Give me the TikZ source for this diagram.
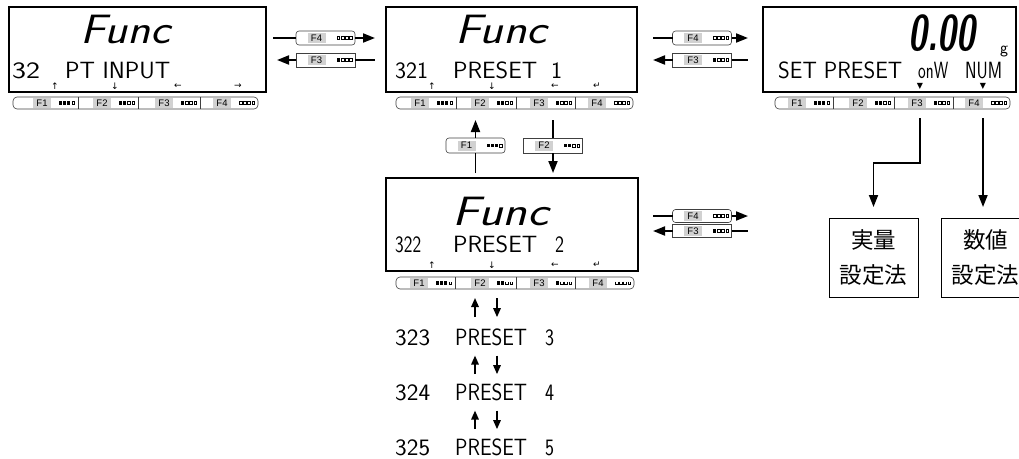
\documentclass[tikz,border=0pt]{standalone}
\usepackage{fontspec}
\usepackage{graphicx}
\usetikzlibrary{arrows.meta}
\newfontfamily\symf{DejaVu Sans}
\newfontfamily\cjkf{Noto Sans CJK JP}
\newfontfamily\keyf{Liberation Sans}
\newcommand\fitw[2]{\resizebox{#1pt}{\height}{#2}}
% indicator: 1 filled, 0 open, 2 cup
\newcommand\indic[3]{\foreach \vv [count=\kk from 0] in #3 {%
  \ifnum\vv=1 \fill ({#1+\kk*4.2},{#2-1.7}) rectangle ++(3,3.4);\fi
  \ifnum\vv=0 \draw[line width=.45pt] ({#1+\kk*4.2+.25},{#2-1.5}) rectangle ++(2.8,3);\fi
  \ifnum\vv=2 \draw[line width=.45pt] ({#1+\kk*4.2+.25},{#2-1.5}) -- ++(0,3) -- ++(2.8,0) -- ++(0,-3);\fi}}
% keybar: name, x0, x1, yc, d1, d2, d3, opentype
\newcommand\keybar[8]{%
  \node[keybar, minimum width={#3-#2}] (#1) at ({(#2+#3)/2},#4) {};
  \foreach \dd in {#5,#6,#7} \draw[kbline] (\dd,#4-6) -- (\dd,#4+6);
  \foreach \rr/\lab/\pp in {#5/F1/{1,1,1,#8}, #6/F2/{1,1,#8,#8}, #7/F3/{1,#8,#8,#8}, #3/F4/{#8,#8,#8,#8}}{%
    \node[flab] (#1\lab) at (\rr-36,#4) {\lab};
    \indic{\rr-19}{#4}{\pp}}}
% arrow key box: name, x, y, label, pattern, extra style
\newcommand\akey[6]{%
  \node[akey,#6] (#1) at (#2,#3) {};
  \node[flab] (#1l) at (#2-9,#3) {#4};
  \indic{#2+11}{#3}{#5}}
\begin{document}
\begin{tikzpicture}[x=1pt,y=-1pt,
  screen/.style={draw, line width=1.3pt, inner sep=0pt, outer sep=0pt},
  keybar/.style={draw=black!75, line width=.6pt, rounded corners=4pt, inner sep=0pt, outer sep=0pt, minimum height=12},
  kbline/.style={draw=black!75, line width=.6pt},
  flab/.style={fill=black!18, inner sep=0pt, minimum width=18, minimum height=10, font=\keyf\fontsize{9.5}{9.5}\selectfont},
  akey/.style={draw=black!75, line width=.6pt, inner sep=0pt, outer sep=0pt, minimum width=59, minimum height=14},
  lcd/.style={inner sep=0pt, anchor=base west, font=\sffamily\fontsize{23.5}{24}\selectfont},
  funcf/.style={inner sep=0pt, anchor=base west, font=\sffamily\slshape\fontsize{41}{41}\selectfont},
  bigd/.style={inner sep=0pt, anchor=base west, font=\sffamily\bfseries\slshape\fontsize{50}{50}\selectfont},
  sym/.style={inner sep=0pt, font=\symf\fontsize{9}{9}\selectfont},
  conn/.style={line width=1.8pt},
  arr/.style={conn, -{Triangle[length=12pt,width=9pt]}},
  sarr/.style={line width=1.6pt, -{Triangle[length=9pt,width=7.5pt]}},
  cbox/.style={draw, line width=.8pt, inner sep=0pt, outer sep=0pt, minimum width=89, minimum height=79, align=center, font=\cjkf\fontsize{22.5}{35}\selectfont}]
\useasboundingbox (0,0) rectangle (1019,458);

% screens
\node[screen, minimum width=257, minimum height=85] (s1) at (137.5,49.5) {};
\node[screen, minimum width=251, minimum height=85] (s2) at (511.5,49.5) {};
\node[screen, minimum width=253, minimum height=85] (s3) at (889.5,49.5) {};
\node[screen, minimum width=252, minimum height=93] (s4) at (512,224.5) {};

% screen 1
\node[funcf] (s1f) at (80,43) {\fitw{90}{Func}};
\node[lcd] (s1a) at (12,78) {\fitw{28}{32}};
\node[lcd] (s1b) at (65,78) {\fitw{105}{PT INPUT}};
\node[sym] (s1k1) at (55,86) {↑};
\node[sym] (s1k2) at (115,86) {↓};
\node[sym] (s1k3) at (178,86) {←};
\node[sym] (s1k4) at (238,86) {→};

% screen 2
\node[funcf] (s2f) at (455,43) {\fitw{92}{Func}};
\node[lcd] (s2a) at (395,78) {\fitw{33}{321}};
\node[lcd] (s2b) at (453,78) {\fitw{84}{PRESET}};
\node[lcd] (s2c) at (551,78) {1};
\node[sym] (s2k1) at (432,86) {↑};
\node[sym] (s2k2) at (492,86) {↓};
\node[sym] (s2k3) at (555,86) {←};
\node[sym] (s2k4) at (597,86) {↵};

% screen 3
\node[bigd] (s3d) at (908,50) {\fitw{67}{0.00}};
\node[inner sep=0pt, anchor=base west, font=\sffamily\fontsize{17}{17}\selectfont] (s3g) at (1000,53) {g};
\node[lcd] (s3a) at (778,78) {\fitw{124}{SET PRESET}};
\node[lcd] (s3b) at (918,78) {\fitw{30}{onW}};
\node[lcd] (s3c) at (965,78) {\fitw{37}{NUM}};
\node[sym, font=\symf\fontsize{8}{8}\selectfont] (mk1) at (920,86) {▼};
\node[sym, font=\symf\fontsize{8}{8}\selectfont] (mk2) at (983,86) {▼};

% screen 4
\node[funcf] (s4f) at (452,225) {\fitw{96}{Func}};
\node[lcd] (s4a) at (395,252) {\fitw{26}{322}};
\node[lcd] (s4b) at (453,252) {\fitw{84}{PRESET}};
\node[lcd] (s4c) at (555,252) {\fitw{9}{2}};
\node[sym] (s4k1) at (432,265) {↑};
\node[sym] (s4k2) at (492,265) {↓};
\node[sym] (s4k3) at (555,265) {←};
\node[sym] (s4k4) at (597,265) {↵};

% key bars
\keybar{kb1}{13}{258}{103}{78}{138}{200}{0}
\keybar{kb2}{396}{633}{103}{456}{516}{575}{0}
\keybar{kb3}{775}{1010}{103}{833}{894}{953}{0}
\keybar{kb4}{396}{634}{283}{455}{516}{575}{2}

% arrow key boxes
\akey{k12a}{325.5}{38}{F4}{{0,0,0,0}}{rounded corners=3pt}
\akey{k12b}{325.5}{60}{F3}{{1,0,0,0}}{}
\akey{k23a}{702}{38}{F4}{{0,0,0,0}}{rounded corners=3pt}
\akey{k23b}{702}{60}{F3}{{1,0,0,0}}{}
\akey{k4a}{702}{216}{F4}{{0,0,0,0}}{rounded corners=3pt, minimum height=13}
\akey{k4b}{702}{231}{F3}{{1,0,0,0}}{minimum height=13}
\akey{kv1}{475.5}{145.5}{F1}{{1,1,1,0}}{rounded corners=3pt, minimum height=15}
\akey{kv2}{553}{145.5}{F2}{{1,1,0,0}}{minimum height=15}

% connectors screen1 <-> screen2
\draw[conn, shorten <=7pt] (s1.east |- k12a.west) -- (k12a.west);
\draw[arr, shorten >=11pt] (k12a.east) -- (s2.west |- k12a.east);
\draw[arr, shorten >=11pt] (k12b.west) -- (s1.east |- k12b.west);
\draw[conn, shorten >=11pt] (k12b.east) -- (s2.west |- k12b.east);
% screen2 <-> screen3
\draw[conn, shorten <=16pt] (s2.east |- k23a.west) -- (k23a.west);
\draw[arr, shorten >=15pt] (k23a.east) -- (s3.west |- k23a.east);
\draw[arr, shorten >=16pt] (k23b.west) -- (s2.east |- k23b.west);
\draw[conn, shorten >=15pt] (k23b.east) -- (s3.west |- k23b.east);
% screen4 right
\coordinate (e4) at (748,0);
\draw[conn, shorten <=15pt] (s4.east |- k4a.west) -- (k4a.west);
\draw[arr] (k4a.east) -- (e4 |- k4a.east);
\draw[arr, shorten >=15pt] (k4b.west) -- (s4.east |- k4b.west);
\draw[conn] (k4b.east) -- (e4 |- k4b.east);
% screen2 <-> screen4
\draw[conn, shorten <=5pt] (kv1.south |- s4.north) -- (kv1.south);
\draw[arr, shorten >=11pt] (kv1.north) -- (kv1.north |- kb2.south);
\draw[conn, shorten <=11pt] (kv2.north |- kb2.south) -- (kv2.north);
\draw[arr, shorten >=5pt] (kv2.south) -- (kv2.south |- s4.north);

% method boxes
\node[cbox] (b1) at (873.5,257.5) {実量\\設定法};
\node[cbox] (b2) at (985.5,257.5) {数値\\設定法};
\draw[arr, shorten <=9pt, shorten >=11pt] (mk1 |- kb3.south) -- ++(0,54) -| (b1.north);
\draw[arr, shorten <=9pt, shorten >=11pt] (mk2 |- kb3.south) -- (mk2 |- b2.north);

% list of presets
\node[lcd] (t3a) at (395,345) {\fitw{35}{323}};
\node[lcd] (t3b) at (455,345) {\fitw{72}{PRESET}};
\node[lcd] (t3c) at (545,345) {\fitw{9}{3}};
\node[lcd] (t4a) at (395,400) {\fitw{35}{324}};
\node[lcd] (t4b) at (455,400) {\fitw{72}{PRESET}};
\node[lcd] (t4c) at (545,400) {\fitw{9}{4}};
\node[lcd] (t5a) at (395,455) {\fitw{35}{325}};
\node[lcd] (t5b) at (455,455) {\fitw{72}{PRESET}};
\node[lcd] (t5c) at (545,455) {\fitw{9}{5}};
\coordinate (cu) at (475,0);
\coordinate (cd) at (497,0);
\draw[sarr, shorten <=11pt, shorten >=9pt] (cu |- t3b.north) -- (cu |- kb4.south);
\draw[sarr, shorten <=9pt, shorten >=11pt] (cd |- kb4.south) -- (cd |- t3b.north);
\draw[sarr, shorten <=9pt, shorten >=10pt] (cu |- t4b.north) -- (cu |- t3b.south);
\draw[sarr, shorten <=10pt, shorten >=9pt] (cd |- t3b.south) -- (cd |- t4b.north);
\draw[sarr, shorten <=9pt, shorten >=10pt] (cu |- t5b.north) -- (cu |- t4b.south);
\draw[sarr, shorten <=10pt, shorten >=9pt] (cd |- t4b.south) -- (cd |- t5b.north);
\end{tikzpicture}
\end{document}
